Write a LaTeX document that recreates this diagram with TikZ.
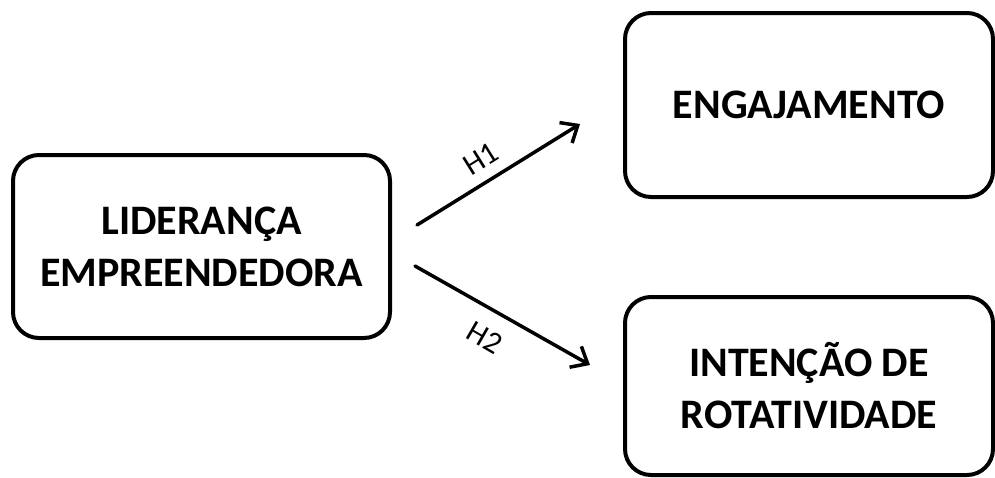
\documentclass[tikz,border=0pt]{standalone}
\usepackage{fontspec}
\setmainfont{Carlito}
\usetikzlibrary{positioning, arrows.meta}

\begin{document}
\begin{tikzpicture}[x=1pt, y=-1pt, >={Straight Barb[length=14pt, width=24pt, line width=3.5pt]},
    construct/.style={draw=black, line width=4pt, rounded corners=26pt, align=center,
        font=\fontsize{42}{52}\selectfont\bfseries, inner sep=0pt},
    path/.style={->, line width=3.5pt, line cap=round},
    hyp/.style={font=\fontsize{31}{31}\selectfont, inner sep=0pt}]

    % 1. Canvas
    \useasboundingbox (0,0) rectangle (995,477);

    % 2. Constructs
    \node[construct, minimum width=377pt, minimum height=183pt] (lid) at (201.5,246.5) {LIDERANÇA\\EMPREENDEDORA};
    \node[construct, minimum width=368pt, minimum height=184pt] (eng) at (809,105) {ENGAJAMENTO};
    \node[construct, minimum width=368pt, minimum height=178pt] (rot) at (809,386) {INTENÇÃO DE\\ROTATIVIDADE};

    % 3. Arrow ends
    \coordinate (h1s) at (417,225);
    \coordinate (h1e) at (580,124);
    \coordinate (h2s) at (415,266);
    \coordinate (h2e) at (590,365);

    % 4. Hypotheses
    \draw[path] (h1s) -- (h1e);
    \draw[path] (h2s) -- (h2e);
    \node[hyp, rotate=32] (h1) at (481,159) {H1};
    \node[hyp, rotate=-30] (h2) at (485,338) {H2};

\end{tikzpicture}
\end{document}
